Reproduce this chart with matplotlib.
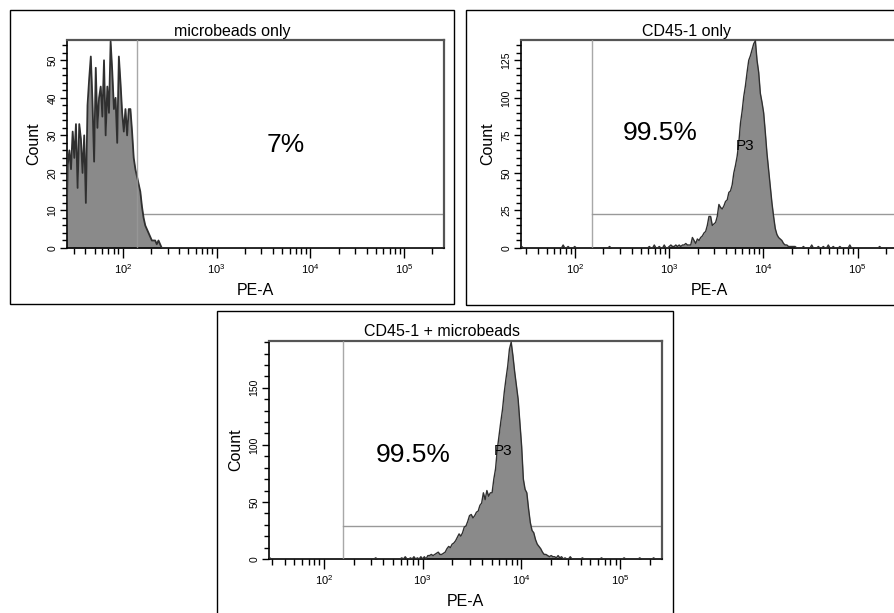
import numpy as np
import matplotlib
matplotlib.use("Agg")
import matplotlib.pyplot as plt
from matplotlib.patches import Rectangle
from matplotlib.ticker import MultipleLocator, FixedLocator, NullFormatter

plt.rcParams['font.family'] = ['Liberation Sans', 'DejaVu Sans']
plt.rcParams['mathtext.fontset'] = 'custom'
plt.rcParams['mathtext.rm'] = 'Liberation Sans'
plt.rcParams['mathtext.it'] = 'Liberation Sans:italic'

W, H = 894, 613
CHANNEL = 0.0176          # histogram channel width in log10 decades

# ---------------- data ----------------
x_tick_values = [1e2, 1e3, 1e4, 1e5]
x_tick_labels = [r'$\mathregular{10^{2}}$', r'$\mathregular{10^{3}}$',
                 r'$\mathregular{10^{4}}$', r'$\mathregular{10^{5}}$']

# microbeads only
beads_title = "microbeads only"
beads_start = 1.404       # log10 PE-A of first channel
beads_counts = [22, 26, 21, 31, 24, 33, 16, 33, 29, 20, 30, 12, 38, 45, 51,
                39, 23, 48, 32, 40, 43, 35, 50, 30, 43, 36, 55, 47, 37, 40,
                28, 51, 44, 36, 31, 37, 30, 37, 37, 31, 24, 21, 19, 17, 15,
                11, 8, 6, 5, 4, 3, 2, 2, 2, 1, 2, 1, 0]
beads_events_log = []
beads_events_cnt = []
beads_gate_pe = 141
beads_gate_count = 9
beads_pct = "7%"
beads_pct_pos = (5500, 27.5)

# CD45-1 only
cd45_title = "CD45-1 only"
cd45_start = 3.0
cd45_counts = [1, 2, 1, 1, 2, 1, 2, 1, 2, 2, 3, 2, 2,
               2, 7, 5, 3, 6, 5, 7, 8, 10, 11, 15,
               21, 21, 15, 16, 17, 21, 29, 27, 26, 28, 31,
               32, 37, 38, 42, 50, 55, 61, 70, 83, 91, 101,
               108, 117, 125, 128, 132, 136, 138, 125, 117, 103, 97,
               90, 77, 63, 52, 41, 30, 21, 13, 9, 7, 6,
               5, 3, 2, 2, 1, 1, 1, 1, 1, 0]
cd45_events_log = [1.44, 1.88, 1.92, 2.00, 2.37, 2.79, 2.84, 2.89, 2.94,
                   4.42, 4.52, 4.58, 4.63, 4.69, 4.74, 4.82, 4.91, 5.24]
cd45_events_cnt = [1, 2, 1, 1, 1, 1, 2, 1, 2,
                   1, 2, 1, 1, 2, 1, 1, 2, 1]
cd45_gate_pe = 151
cd45_gate_count = 22.6
cd45_pct = "99.5%"
cd45_pct_pos = (794, 76.8)
cd45_p3_pos = (6460, 68)

# CD45-1 + microbeads
mix_title = "CD45-1 + microbeads"
mix_start = 3.05
mix_counts = [3, 3, 4, 3, 4, 5, 6, 4, 4, 5, 6,
              9, 11, 10, 13, 14, 16, 19, 22, 20, 23, 28,
              29, 33, 38, 39, 36, 38, 41, 42, 47, 49, 58,
              52, 60, 55, 58, 58, 70, 79, 96, 108, 120, 131,
              146, 158, 169, 184, 190, 178, 164, 152, 140, 120, 99,
              70, 61, 58, 44, 32, 25, 23, 17, 13, 11, 9,
              6, 4, 4, 3, 2, 3, 2, 2, 1, 3, 1, 2]
mix_events_log = [1.45, 2.52, 2.79, 2.83, 2.87, 2.92, 2.95, 2.99, 3.02,
                  4.45, 4.50, 4.62, 4.81, 5.04, 5.20, 5.34]
mix_events_cnt = [1, 1, 1, 2, 1, 2, 1, 2, 2,
                  1, 2, 1, 1, 1, 1, 1]
mix_gate_pe = 155
mix_gate_count = 29
mix_pct = "99.5%"
mix_pct_pos = (804, 91)
mix_p3_pos = (6520, 94.7)

FILL = '#8a8a8a'
EDGE = '#303030'
GATE = '#999999'


def channels(lo, hi, start, counts, ev_log, ev_cnt):
    n = int(round((hi - lo) / CHANNEL)) + 2
    y = np.zeros(n)
    i0 = int(round((start - lo) / CHANNEL))
    for k, c in enumerate(counts):
        if 0 <= i0 + k < n:
            y[i0 + k] = c
    for p, c in zip(ev_log, ev_cnt):
        j = int(round((p - lo) / CHANNEL))
        if 0 <= j < n:
            y[j] = max(y[j], c)
    x = 10 ** (lo + CHANNEL * np.arange(n))
    return x, y


fig = plt.figure(figsize=(W / 100, H / 100), dpi=100)
fig.patch.set_facecolor('white')


def px_axes(left, top, width, height):
    return fig.add_axes([left / W, 1 - (top + height) / H, width / W, height / H])


def frame(x0, y0, x1, y1):
    fig.add_artist(Rectangle((x0 / W, 1 - y1 / H), (x1 - x0) / W, (y1 - y0) / H,
                             transform=fig.transFigure, fill=False,
                             edgecolor='black', linewidth=1.0))


def panel(box, ax_box, log_range, ymax, ymajor, yminor, title, title_xy,
          start, counts, ev_log, ev_cnt, gate_pe, gate_count,
          pct, pct_pos, p3_pos=None, edge_lw=1.0):
    frame(*box)
    left, top, width, height = ax_box
    ax = px_axes(left, top, width, height)
    lo, hi = log_range
    x, y = channels(lo - 0.01, hi, start, counts, ev_log, ev_cnt)
    ax.set_xscale('log')
    ax.set_xlim(10 ** lo, 10 ** hi)
    ax.set_ylim(0, ymax)

    # gate region P3
    ax.plot([gate_pe, 10 ** hi], [gate_count, gate_count], color=GATE,
            lw=1.0, zorder=1)
    ax.fill_between(x, 0, y, color=FILL, lw=0, zorder=2)
    ax.plot(x, y, color=EDGE, lw=edge_lw, zorder=3)
    ax.axvline(gate_pe, color=GATE, lw=1.0, zorder=4, alpha=0.85)

    ax.xaxis.set_major_locator(FixedLocator(x_tick_values))
    ax.set_xticklabels(x_tick_labels)
    ax.xaxis.set_minor_formatter(NullFormatter())
    ax.yaxis.set_major_locator(MultipleLocator(ymajor))
    ax.yaxis.set_minor_locator(MultipleLocator(yminor))
    ax.tick_params(axis='x', which='major', length=7, width=1, pad=3,
                   labelsize=8, direction='out')
    ax.tick_params(axis='x', which='minor', length=4.5, width=1,
                   direction='out')
    ax.tick_params(axis='y', which='major', length=5, width=1, pad=2,
                   labelsize=7.5, labelrotation=90, direction='out')
    ax.tick_params(axis='y', which='minor', length=3.5, width=1,
                   direction='out')
    for lab in ax.get_yticklabels():
        lab.set_va('center')
    for side in ('left', 'bottom'):
        ax.spines[side].set_color('black')
        ax.spines[side].set_linewidth(1.2)
    for side in ('top', 'right'):
        ax.spines[side].set_color('#555555')
        ax.spines[side].set_linewidth(1.6)

    ax.text(-33 / width, 0.5, 'Count', transform=ax.transAxes,
            rotation=90, ha='center', va='center', fontsize=11.5)
    fig.text(title_xy[0] / W, 1 - title_xy[1] / H, title, ha='center',
             va='baseline', fontsize=11.5)
    fig.text((left + width / 2) / W, 1 - (top + height + 47) / H, 'PE-A',
             ha='center', va='baseline', fontsize=11.5)
    ax.text(pct_pos[0], pct_pos[1], pct, ha='center', va='center', fontsize=19)
    if p3_pos is not None:
        ax.text(p3_pos[0], p3_pos[1], 'P3', ha='center', va='center',
                fontsize=11)
    return ax


panel((10, 10, 454, 304), (67, 40, 377, 208), (1.405, 5.426), 55.4, 10, 2,
      beads_title, (232, 36), beads_start, beads_counts,
      beads_events_log, beads_events_cnt, beads_gate_pe, beads_gate_count,
      beads_pct, beads_pct_pos, edge_lw=1.3)

panel((466, 10, 902, 305), (521, 40, 377, 208), (1.426, 5.43), 138.5, 25, 5,
      cd45_title, (687, 36), cd45_start, cd45_counts,
      cd45_events_log, cd45_events_cnt, cd45_gate_pe, cd45_gate_count,
      cd45_pct, cd45_pct_pos, cd45_p3_pos)

panel((217, 311, 673, 620), (269, 341, 393, 218), (1.443, 5.425), 191, 50, 10,
      mix_title, (442, 336.5), mix_start, mix_counts,
      mix_events_log, mix_events_cnt, mix_gate_pe, mix_gate_count,
      mix_pct, mix_pct_pos, mix_p3_pos)

fig.savefig('out.png', dpi=100, facecolor='white')
